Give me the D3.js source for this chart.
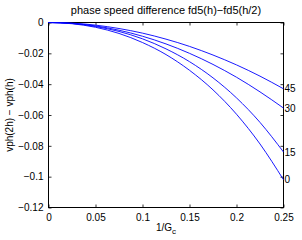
<!DOCTYPE html>
<html>
<head>
<meta charset="utf-8">
<script src="https://cdn.jsdelivr.net/npm/d3@7"></script>
<style>
  body { margin: 0; background: #fff; }
  svg { display: block; font-family: "Liberation Sans", Arial, sans-serif; }
</style>
</head>
<body>
<svg id="chart" width="302" height="240"></svg>
<script>
// values (1/Gc on x, vph(2h) - vph(h) on y)
const xs = [0, 0.025, 0.05, 0.075, 0.1, 0.125, 0.15, 0.175, 0.2, 0.225, 0.25];
const angles = ["45", "30", "15", "0"];
const d45 = [0, -0.0004, -0.0017, -0.0039, -0.0069, -0.0108, -0.0155, -0.0211, -0.0275, -0.0348, -0.0430];
const d30 = [0, -0.0006, -0.0022, -0.0050, -0.0089, -0.0139, -0.0200, -0.0272, -0.0355, -0.0450, -0.0555];
const d15 = [0, -0.0006, -0.0026, -0.0058, -0.0106, -0.0171, -0.0254, -0.0359, -0.0489, -0.0648, -0.0840];
const d0  = [0, -0.0008, -0.0031, -0.0071, -0.0130, -0.0208, -0.0310, -0.0437, -0.0595, -0.0788, -0.1020];
const xTicks = [0, 0.05, 0.1, 0.15, 0.2, 0.25];
const yTicks = [0, -0.02, -0.04, -0.06, -0.08, -0.1, -0.12];

const series = [d45, d30, d15, d0];

const svg = d3.select("#chart");
const margin = {top: 22.5, right: 18.5, bottom: 32.5, left: 48.5};
const width = 302 - margin.left - margin.right,
      height = 240 - margin.top - margin.bottom;

const x = d3.scaleLinear().domain([0, 0.25]).range([0, width]);
const y = d3.scaleLinear().domain([-0.12, 0]).range([height, 0]);

const g = svg.append("g").attr("transform", "translate(" + margin.left + "," + margin.top + ")");

const fmt = d => d === 0 ? "0" : String(d).replace("-", "\u2212");

// axes, matlab style: ticks inward on all four sides
function styleAxis(sel) {
  sel.attr("font-family", null);
  sel.select(".domain").remove();
  sel.selectAll("line").attr("stroke", "#000").attr("stroke-width", 0.8);
  sel.selectAll("text").attr("fill", "#000").attr("font-size", 10);
}
g.append("g").attr("transform", "translate(0," + height + ")")
  .call(d3.axisBottom(x).tickValues(xTicks).tickSize(-3).tickPadding(6).tickFormat(fmt))
  .call(styleAxis);
g.append("g")
  .call(d3.axisTop(x).tickValues(xTicks).tickSize(-3).tickFormat(""))
  .call(styleAxis);
g.append("g")
  .call(d3.axisLeft(y).tickValues(yTicks).tickSize(-3).tickPadding(5).tickFormat(fmt))
  .call(styleAxis);
g.append("g").attr("transform", "translate(" + width + ",0)")
  .call(d3.axisRight(y).tickValues(yTicks).tickSize(-3).tickFormat(""))
  .call(styleAxis);

g.append("rect")
  .attr("width", width).attr("height", height)
  .attr("fill", "none").attr("stroke", "#000").attr("stroke-width", 1);

const line = d3.line()
  .x((d, i) => x(xs[i]))
  .y(d => y(d))
  .curve(d3.curveMonotoneX);

g.selectAll(".curve").data(series).enter().append("path")
  .attr("class", "curve")
  .attr("d", line)
  .attr("fill", "none")
  .attr("stroke", "#0000ff")
  .attr("stroke-width", 0.9);

// angle labels at the right end of each curve
g.selectAll(".lab").data(series).enter().append("text")
  .attr("class", "lab")
  .attr("x", width + 1)
  .attr("y", d => y(d[d.length - 1]))
  .attr("dy", "0.35em")
  .attr("font-size", 10)
  .text((d, i) => angles[i]);

svg.append("text")
  .attr("x", margin.left + width / 2).attr("y", 14)
  .attr("text-anchor", "middle").attr("font-size", 11)
  .text("phase speed difference fd5(h)\u2212fd5(h/2)");

const xl = svg.append("text")
  .attr("x", margin.left + width / 2).attr("y", 231)
  .attr("text-anchor", "middle").attr("font-size", 10);
xl.append("tspan").text("1/G");
xl.append("tspan").attr("dy", 3).attr("font-size", 8).text("c");

svg.append("text")
  .attr("transform", "translate(13," + (margin.top + height / 2) + ") rotate(-90)")
  .attr("text-anchor", "middle").attr("font-size", 10)
  .text("vph(2h) \u2212 vph(h)");
</script>
</body>
</html>
